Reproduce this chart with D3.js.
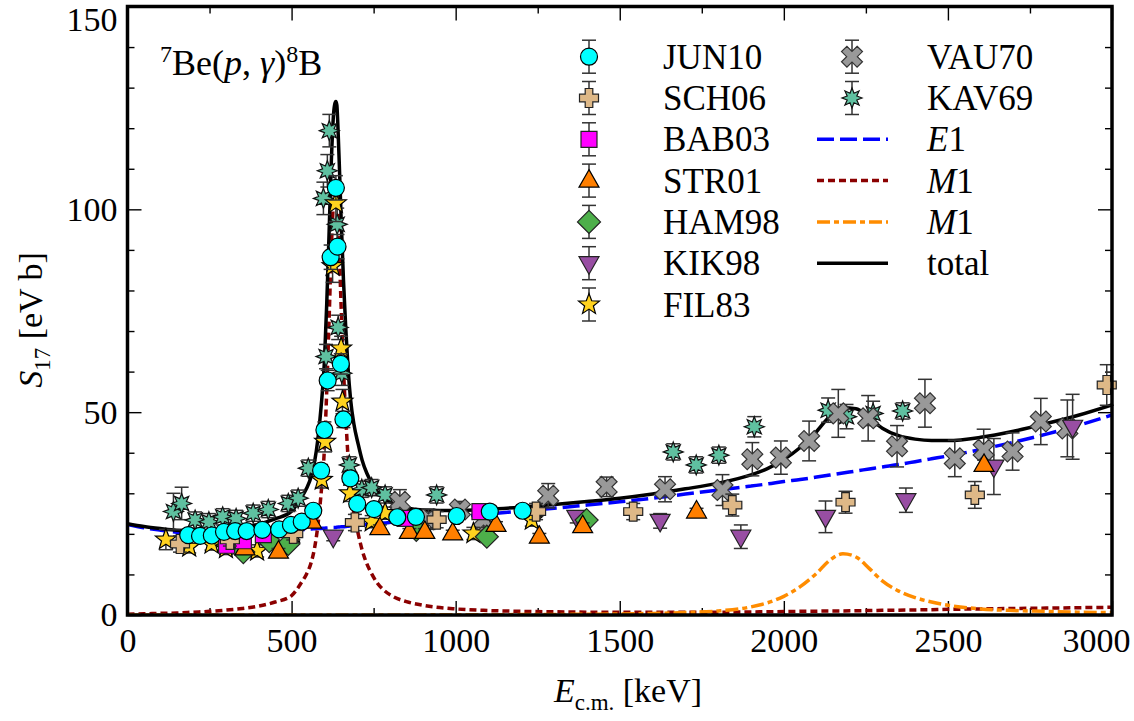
<!DOCTYPE html>
<html><head><meta charset="utf-8">
<script src="https://cdn.jsdelivr.net/npm/d3@7"></script>
<style>
html,body{margin:0;padding:0;background:#fff;}
text, tspan{font-family:"Times New Roman","Liberation Serif",Tinos,"Nimbus Roman" !important;}
</style></head><body>
<svg id="chart" width="1134" height="721"></svg>
<script>
// ---------- curve data ----------
const curveE = [0,50,100,150,200,250,300,350,400,450,500,530,545,560,570,580,590,600,607,614,621,628,632,635,638,642,646,651,658,665,672,680,690,703,715,729,745,760,780,810,850,900,1000,1100,1200,1300,1400,1500,1600,1700,1800,1900,1950,2000,2050,2100,2140,2180,2220,2260,2300,2350,2400,2450,2500,2600,2700,2800,2900,3000];
const e1S = [22.3,21.5,20.9,20.4,20.1,19.9,19.9,20.0,20.2,20.5,20.8,21.0,21.1,21.2,21.25,21.3,21.35,21.4,21.45,21.5,21.55,21.6,21.6,21.6,21.65,21.7,21.7,21.75,21.75,21.8,21.9,21.95,22.0,22.1,22.15,22.3,22.4,22.5,22.65,22.9,23.1,23.5,24.2,24.9,25.6,26.3,27.1,27.9,28.8,29.8,30.8,31.8,32.3,32.9,33.4,34.0,34.5,35.0,35.5,36.0,36.5,37.1,37.8,38.5,39.2,40.8,42.6,44.6,46.8,49.3];
const m1S = [0.2,0.3,0.4,0.5,0.7,0.9,1.2,1.6,2.2,3.2,4.8,8.0,10.0,13.0,16.5,22.0,30.0,41.0,55.0,72.0,90.0,102.0,104.5,105.0,104.0,97.0,88.0,76.0,61.0,49.0,39.0,31.0,25.0,20.0,16.0,12.7,10.0,8.0,6.2,4.5,3.3,2.4,1.5,1.1,0.9,0.8,0.7,0.65,0.65,0.7,0.7,0.75,0.8,0.85,0.9,0.95,1.0,1.0,1.05,1.1,1.15,1.2,1.25,1.3,1.4,1.5,1.6,1.7,1.8,1.9];
const m1bS = [0,0,0,0,0,0,0,0,0,0,0,0,0,0,0,0,0,0,0,0,0,0,0,0,0,0,0,0,0,0,0,0,0,0,0,0,0,0,0,0,0.02,0.03,0.05,0.07,0.1,0.13,0.18,0.25,0.4,0.6,1.0,2.0,3.0,4.6,7.0,10.3,13.5,15.1,14.3,11.5,8.4,5.9,4.3,3.2,2.4,1.5,1.1,0.9,0.7,0.6];
const totalS = [22.5,21.8,21.3,20.9,20.8,20.8,21.1,21.6,22.4,23.7,25.6,29.0,31.1,34.2,37.75,43.3,51.35,62.4,76.45,93.5,111.55,123.6,126.1,126.6,125.65,118.7,109.7,97.75,82.75,70.8,60.9,52.95,47.0,42.1,38.15,35.0,32.4,30.5,28.85,27.4,26.4,25.9,25.75,26.07,26.6,27.23,27.98,28.8,29.85,31.1,32.5,34.55,36.1,38.35,41.3,45.25,49.0,51.1,50.85,48.6,46.05,44.2,43.35,43.0,43.0,43.8,45.3,47.2,49.3,51.8];

// ---------- experimental data ----------
const jun10E = [185,221,257,294,328,363,411,462,498,531,566,590,600,610,619,635,640,650,658,679,700,751,822,879,1003,1104,1204];
const jun10S = [19.7,19.5,19.6,20.5,20.7,20.7,21.0,21.1,22.2,23.0,25.7,35.6,45.6,57.8,88.2,105.3,90.8,61.9,48.2,33.7,27.4,26.1,24.1,24.2,24.4,25.5,25.7];
const jun10Err = [0.8,0.8,0.8,0.8,0.8,0.8,0.8,0.8,0.8,0.8,1,1.5,2,2.5,3,3,3,2.5,2,1.5,1,1,1,1,1,1,1];

const sch06E = [160,312,505,693,942,1245,1541,1843,2188,2582,2984];
const sch06S = [17.5,18.5,20.0,22.8,23.5,25.5,25.5,27.1,27.8,29.6,56.7];
const sch06Err = [2,1.5,1.5,2,2,2,2,2.7,2.7,3.3,5];

const bab03E = [302,353,414,846,1074];
const bab03S = [17.2,18.3,19.8,23.8,25.5];
const bab03Err = [0.6,0.6,0.6,0.8,0.8];

const str01E = [358,460,561,769,859,906,991,1123,1255,1387,1734,2610];
const str01S = [16.4,15.6,23.0,21.4,20.5,20.5,20.1,22.2,19.3,21.9,25.5,37.0];
const str01Err = [0.8,0.8,0.8,0.8,0.8,0.8,0.8,0.8,0.8,0.8,0.8,1.2];

const ham98E = [353,432,490,880,1095,1399];
const ham98S = [15.5,18.2,17.5,21.0,19.3,23.4];
const ham98Err = [1,1,1,1,1,1];

const kik98E = [627,1369,1623,1869,2127,2372,2640,2880];
const kik98S = [19.3,24.2,23.2,19.3,24.2,28.3,36.6,46.4];
const kik98Err = [1,1.5,1.8,2.9,3.9,3,6.9,8];

const fil83E = [117,188,256,300,395,505,592,602,625,635,651,655,678,744,785,1054,1232];
const fil83S = [18.6,16.8,17.5,16.4,15.8,20.1,33.3,42.7,86,101.5,65.7,52.6,30.0,23.0,25.1,20.1,23.4];
const fil83Err = [2.5,1.5,1.5,1.5,1.5,1.5,2,2.5,4,4.5,3,3,2,1.5,1.5,1.5,1.5];

const vau70E = [830,917,1013,1085,1282,1460,1638,1813,1904,1991,2077,2166,2257,2345,2430,2521,2609,2697,2783,2864];
const vau70S = [27.9,23.6,26.0,23.5,29.4,31.6,31.0,30.8,38.4,38.8,42.9,49.7,48.5,41.6,52.2,38.6,40.7,40.3,47.7,46.0];
const vau70Err = [3,2.5,2,2,3,2.4,3.1,3.8,4.1,4.1,4.9,5.9,5.6,5.1,5.9,4.5,5.1,4.6,5.7,7];

const kav69E = [140,165,206,248,290,331,383,429,490,520,551,597,605,609,615,639,642,653,676,714,744,785,942,1663,1733,1802,1910,2135,2191,2272,2362];
const kav69S = [25.5,27.5,23.4,23.0,24.2,23.8,25.1,26.0,27.5,28.8,36.2,102.7,63.7,109.5,119.4,96.3,70.9,59.6,37.0,31.0,31.4,29.6,29.6,40.2,37.0,39.4,46.4,50.5,48.9,49.7,50.3];
const kav69Err = [4.5,4,2,2,2,2,2,2,2,2,2,4,3,4,4,4,3,3,2,2,2,2,2,2,2,2,2.5,3,3,3,2];

// axis ticks
const xMajor = [0,500,1000,1500,2000,2500,3000];
const xMinor = [250,750,1250,1750,2250,2750];
const yMajor = [0,50,100,150];
const yMinor = [10,20,30,40,60,70,80,90,110,120,130,140];

// legend labels
const legendData = ["JUN10","SCH06","BAB03","STR01","HAM98","KIK98","FIL83","VAU70","KAV69"];

// ---------- setup ----------
const svg = d3.select("#chart");
const X0 = 127.5, X1 = 1112, Y0 = 615, Y1 = 6.5;
const x = d3.scaleLinear().domain([0,3000]).range([X0,X1]);
const y = d3.scaleLinear().domain([0,150]).range([Y0,Y1]);
const FONT = 34;
const FAM = '"Times New Roman","Liberation Serif",Tinos,"Nimbus Roman"';
function serif(sel){ return sel.attr("font-family",FAM).style("font-family",FAM).attr("fill","#000"); }

svg.append("defs").append("clipPath").attr("id","clip")
  .append("rect").attr("x",X0).attr("y",Y1).attr("width",X1-X0).attr("height",Y0-Y1);

// ---------- marker shapes ----------
function polyPath(pts){ return "M" + pts.map(p=>p[0].toFixed(2)+","+p[1].toFixed(2)).join("L") + "Z"; }
function starPts(n, ro, ri, rot){
  const pts=[];
  for(let i=0;i<2*n;i++){
    const r = i%2===0?ro:ri;
    const a = rot + Math.PI*i/n;
    pts.push([r*Math.sin(a), -r*Math.cos(a)]);
  }
  return pts;
}
function plusPts(L, w, ang){
  const base = [[-w,-L],[w,-L],[w,-w],[L,-w],[L,w],[w,w],[w,L],[-w,L],[-w,w],[-L,w],[-L,-w],[-w,-w]];
  const c=Math.cos(ang), s=Math.sin(ang);
  return base.map(p=>[p[0]*c-p[1]*s, p[0]*s+p[1]*c]);
}
const shapes = {
  circle: "M8.5,0A8.5,8.5 0 1,1 -8.5,0A8.5,8.5 0 1,1 8.5,0Z",
  square: "M-8,-8H8V8H-8Z",
  triUp: "M0,-11L10,6.5L-10,6.5Z",
  triDown: "M0,11L10,-6.5L-10,-6.5Z",
  diamond: "M0,-11.5L11.5,0L0,11.5L-11.5,0Z",
  star5: polyPath(starPts(5,11,4.6,0)),
  plus: polyPath(plusPts(9.5,3.8,0)),
  cross: polyPath(plusPts(11,3.8,Math.PI/4)),
  burst: polyPath(starPts(8,10,5.2,0))
};

const series = [
  {name:"JUN10", E:jun10E, S:jun10S, err:jun10Err, shape:"circle", fill:"#00ffff", stroke:"#000"},
  {name:"SCH06", E:sch06E, S:sch06S, err:sch06Err, shape:"plus", fill:"#deb887", stroke:"#222"},
  {name:"BAB03", E:bab03E, S:bab03S, err:bab03Err, shape:"square", fill:"#ff00ff", stroke:"#222"},
  {name:"STR01", E:str01E, S:str01S, err:str01Err, shape:"triUp", fill:"#ff7f00", stroke:"#000"},
  {name:"HAM98", E:ham98E, S:ham98S, err:ham98Err, shape:"diamond", fill:"#4daf4a", stroke:"#222"},
  {name:"KIK98", E:kik98E, S:kik98S, err:kik98Err, shape:"triDown", fill:"#984ea3", stroke:"#222"},
  {name:"FIL83", E:fil83E, S:fil83S, err:fil83Err, shape:"star5", fill:"#ffd21f", stroke:"#000"},
  {name:"VAU70", E:vau70E, S:vau70S, err:vau70Err, shape:"cross", fill:"#999999", stroke:"#333"},
  {name:"KAV69", E:kav69E, S:kav69S, err:kav69Err, shape:"burst", fill:"#5fc0a0", stroke:"#111"}
];

// ---------- axes ----------
function styleAxis(g){
  g.select(".domain").remove();
  g.selectAll("line").attr("stroke","#000").attr("stroke-width",1.4);
  g.attr("font-size",FONT).attr("font-family",FAM);
  g.selectAll("text").call(serif);
}
const gxb = svg.append("g").attr("transform",`translate(0,${Y0})`)
  .call(d3.axisBottom(x).tickValues(xMajor).tickSize(-14).tickPadding(13).tickFormat(d3.format("d")));
styleAxis(gxb);
gxb.selectAll(".tick text").filter(d=>d===3000).attr("text-anchor","end").attr("x",18);
svg.append("g").attr("transform",`translate(0,${Y0})`)
  .call(d3.axisBottom(x).tickValues(xMinor).tickSize(-7).tickFormat("")).call(styleAxis);
svg.append("g").attr("transform",`translate(0,${Y1})`)
  .call(d3.axisTop(x).tickValues(xMajor).tickSize(-14).tickFormat("")).call(styleAxis);
svg.append("g").attr("transform",`translate(0,${Y1})`)
  .call(d3.axisTop(x).tickValues(xMinor).tickSize(-7).tickFormat("")).call(styleAxis);
const gyl = svg.append("g").attr("transform",`translate(${X0},0)`)
  .call(d3.axisLeft(y).tickValues(yMajor).tickSize(-14).tickPadding(10).tickFormat(d3.format("d")));
styleAxis(gyl);
gyl.selectAll(".tick text").filter(d=>d===150).attr("dy","0.72em");
svg.append("g").attr("transform",`translate(${X0},0)`)
  .call(d3.axisLeft(y).tickValues(yMinor).tickSize(-7).tickFormat("")).call(styleAxis);
svg.append("g").attr("transform",`translate(${X1},0)`)
  .call(d3.axisRight(y).tickValues(yMajor).tickSize(-14).tickFormat("")).call(styleAxis);
svg.append("g").attr("transform",`translate(${X1},0)`)
  .call(d3.axisRight(y).tickValues(yMinor).tickSize(-7).tickFormat("")).call(styleAxis);

// ---------- curves ----------
const curves = [
  {S:e1S, color:"#0000ff", dash:"17,6", label:"E1"},
  {S:m1S, color:"#8b0000", dash:"7,4", label:"M1"},
  {S:m1bS, color:"#ff8c00", dash:"13,4,5,4", label:"M1"},
  {S:totalS, color:"#000000", dash:null, label:"total"}
];
const line = d3.line().x(d=>x(d[0])).y(d=>y(d[1])).curve(d3.curveMonotoneX);
const gCurves = svg.append("g").attr("clip-path","url(#clip)");
curves.forEach(c=>{
  const pts = curveE.map((e,i)=>[e,c.S[i]]);
  gCurves.append("path").attr("d",line(pts)).attr("fill","none")
    .attr("stroke",c.color).attr("stroke-width",3.5)
    .attr("stroke-dasharray",c.dash);
});

// ---------- data points (reverse legend order so JUN10 on top) ----------
const CAP = 7;
function drawErr(g, cx, ylo, yhi){
  g.append("line").attr("x1",cx).attr("x2",cx).attr("y1",ylo).attr("y2",yhi);
  g.append("line").attr("x1",cx-CAP).attr("x2",cx+CAP).attr("y1",ylo).attr("y2",ylo);
  g.append("line").attr("x1",cx-CAP).attr("x2",cx+CAP).attr("y1",yhi).attr("y2",yhi);
}
series.slice().reverse().forEach(s=>{
  const g = svg.append("g");
  const ge = g.append("g").attr("stroke","#333").attr("stroke-width",1.5);
  s.E.forEach((e,i)=>{
    drawErr(ge, x(e), y(s.S[i]-s.err[i]), y(s.S[i]+s.err[i]));
  });
  g.selectAll("path.m").data(s.E.map((e,i)=>[e,s.S[i]])).enter().append("path")
    .attr("class","m").attr("d",shapes[s.shape])
    .attr("transform",d=>`translate(${x(d[0])},${y(d[1])})`)
    .attr("fill",s.fill).attr("stroke",s.stroke).attr("stroke-width",1.2);
});

// ---------- frame ----------
svg.append("rect").attr("x",X0).attr("y",Y1).attr("width",X1-X0).attr("height",Y0-Y1)
  .attr("fill","none").attr("stroke","#000").attr("stroke-width",3.5);

// ---------- legend ----------
const rowY = d3.range(7).map(i=>56.7+i*41.3);
const LFONT = 35;
const lg = svg.append("g");
function legendMarker(cx, cy, s){
  const ge = lg.append("g").attr("stroke","#333").attr("stroke-width",1.5);
  drawErr(ge, cx, cy-16.5, cy+16.5);
  lg.append("path").attr("d",shapes[s.shape]).attr("transform",`translate(${cx},${cy})`)
    .attr("fill",s.fill).attr("stroke",s.stroke).attr("stroke-width",1.2);
}
series.forEach((s,i)=>{
  const col = i<7?0:1;
  const row = i<7?i:i-7;
  const cx = col===0?589:852;
  const cy = rowY[row];
  legendMarker(cx, cy, s);
  lg.append("text").attr("x",col===0?663:927).attr("y",cy+12).attr("font-size",LFONT).call(serif).text(legendData[i]);
});
curves.forEach((c,i)=>{
  const cy = rowY[i+2];
  lg.append("line").attr("x1",817).attr("x2",888).attr("y1",cy).attr("y2",cy)
    .attr("stroke",c.color).attr("stroke-width",3.5).attr("stroke-dasharray",c.dash);
  const t = lg.append("text").attr("x",927).attr("y",cy+12).attr("font-size",LFONT).call(serif);
  if(c.label==="total"){ t.text("total"); }
  else { t.append("tspan").attr("font-style","italic").text(c.label[0]); t.append("tspan").text(c.label.slice(1)); }
});

// ---------- annotation ----------
const ann = svg.append("text").attr("x",160).attr("y",75).attr("font-size",36).call(serif);
ann.append("tspan").attr("font-size",24).attr("dy",-13).text("7");
ann.append("tspan").attr("dy",13).text("Be(");
ann.append("tspan").attr("font-style","italic").text("p");
ann.append("tspan").text(", ");
ann.append("tspan").attr("font-style","italic").text("γ");
ann.append("tspan").text(")");
ann.append("tspan").attr("font-size",24).attr("dy",-13).text("8");
ann.append("tspan").attr("dy",13).text("B");

// ---------- axis titles ----------
const xt = svg.append("text").attr("x",628).attr("y",702).attr("text-anchor","middle").attr("font-size",FONT).call(serif);
xt.append("tspan").attr("font-style","italic").text("E");
xt.append("tspan").attr("font-size",23).attr("dy",8).text("c.m.");
xt.append("tspan").attr("dy",-8).text(" [keV]");

const yt = svg.append("text").attr("transform","translate(42,320) rotate(-90)").attr("text-anchor","middle").attr("font-size",FONT).call(serif);
yt.append("tspan").attr("font-style","italic").text("S");
yt.append("tspan").attr("font-size",23).attr("dy",8).text("17");
yt.append("tspan").attr("dy",-8).text(" [eV b]");
</script>
</body></html>
